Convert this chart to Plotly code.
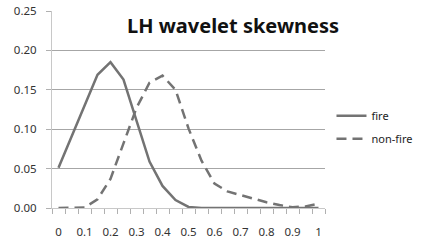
import plotly.graph_objects as go

x_vals = [round(i * 0.05, 2) for i in range(21)]
fire = [0.051, 0.090, 0.130, 0.169, 0.185, 0.163, 0.111, 0.059, 0.028, 0.010, 0.0013,
        0.0, 0.0, 0.0, 0.0, 0.0, 0.0, 0.0, 0.0, 0.0, 0.0]
non_fire = [0.0, 0.0, 0.0005, 0.011, 0.037, 0.082, 0.127, 0.159, 0.168, 0.150, 0.101,
            0.060, 0.031, 0.021, 0.0166, 0.0115, 0.0073, 0.0038, 0.0009, 0.002, 0.0055]
x_tick_vals = [0, 0.1, 0.2, 0.3, 0.4, 0.5, 0.6, 0.7, 0.8, 0.9, 1]
x_tick_text = ["0", "0.1", "0.2", "0.3", "0.4", "0.5", "0.6", "0.7", "0.8", "0.9", "1"]
y_tick_vals = [0, 0.05, 0.10, 0.15, 0.20, 0.25]

line_color = "#737373"
font_family = "Noto Sans"

fig = go.Figure()
fig.add_trace(go.Scatter(x=x_vals, y=fire, mode="lines", name="fire", legendgroup="a",
                         line=dict(color=line_color, width=2.5)))
fig.add_trace(go.Scatter(x=x_vals, y=non_fire, mode="lines", name="non-fire", legendgroup="b",
                         line=dict(color=line_color, width=2.5, dash="10px,6px")))

fig.update_layout(
    width=427, height=242,
    margin=dict(l=52, r=101, t=11, b=34),
    paper_bgcolor="white", plot_bgcolor="white",
    font=dict(family=font_family, size=11.5, color="#333333"),
    showlegend=True,
    legend=dict(x=1.02, y=0.41, xanchor="left", yanchor="middle",
                font=dict(size=11, color="#222222"), itemwidth=30,
                tracegroupgap=4, bgcolor="rgba(0,0,0,0)"),
    annotations=[dict(text="<b>LH wavelet skewness</b>", xref="paper", yref="paper",
                      x=0.662, y=0.926, xanchor="center", yanchor="middle",
                      showarrow=False, font=dict(size=20, color="#111111", family=font_family))],
)
fig.update_xaxes(
    range=[-0.025, 1.025], tickvals=x_tick_vals, ticktext=x_tick_text,
    ticks="", showgrid=False, zeroline=False,
    showline=True, linecolor="#c8c8c8", linewidth=1,
    minor=dict(ticks="outside", tick0=-0.025, dtick=0.05, ticklen=5,
               tickcolor="#b0b0b0", showgrid=False),
    ticklabelstandoff=13, automargin=False,
)
fig.update_yaxes(
    range=[0, 0.25], tickvals=y_tick_vals, tickformat=".2f",
    ticks="outside", ticklen=5, tickcolor="#b0b0b0",
    showgrid=True, gridcolor="#a6a6a6", gridwidth=1, zeroline=False,
    showline=True, linecolor="#c8c8c8", linewidth=1,
    ticklabelstandoff=7, automargin=False,
)
fig.write_html("out.html", config={"displayModeBar": False},
               post_script="document.body.style.margin='0';")
